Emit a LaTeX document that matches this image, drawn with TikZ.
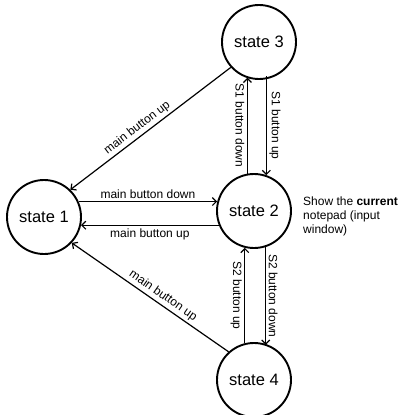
\documentclass[tikz,border=0pt]{standalone}
\usepackage{fontspec}
\setmainfont{Liberation Sans}
\usetikzlibrary{arrows.meta}

\begin{document}
\begin{tikzpicture}[
  x=1pt, y=-1pt,
  >={Straight Barb[length=4pt,width=8pt]},
  state node/.style={circle, draw, line width=1.9pt, minimum size=74pt, inner sep=0pt, font=\fontsize{16.5}{19}\selectfont},
  trans/.style={->, line width=1.2pt},
  lbl/.style={font=\fontsize{12}{14}\selectfont, inner sep=2.5pt}
]
\clip (0,0) rectangle (399,415);

\node[state node] (s1) at (44,217) {state 1};
\node[state node] (s2) at (254,211) {state 2};
\node[state node] (s3) at (259,42) {state 3};
\node[state node] (s4) at (254,380) {state 4};

% state 1 <-> state 2
\draw[trans] (s1.24) -- (s1.24 -| s2.166)
  node[lbl, midway, above] {main button down};
\draw[trans] (s2.202) -- (s2.202 -| s1.-13)
  node[lbl, midway, below] {main button up};

% back to state 1
\draw[trans] (s3.222) -- (s1.46)
  node[lbl, pos=0.55, above, sloped] {main button up};
\draw[trans] (s4.132) -- (s1.-43)
  node[lbl, pos=0.45, above, sloped] {main button up};

% state 2 <-> state 3
\draw[trans] (s2.100) -- (s2.100 |- s3.250)
  node[lbl, midway, anchor=north, rotate=-90] {S1 button down};
\draw[trans] (s2.71 |- s3.296) -- (s2.71)
  node[lbl, midway, anchor=south, rotate=-90] {S1 button up};

% state 2 <-> state 4
\draw[trans] (s4.104) -- (s4.104 |- s2.256)
  node[lbl, midway, anchor=north, rotate=-90] {S2 button up};
\draw[trans] (s2.288) -- (s2.288 |- s4.68)
  node[lbl, midway, anchor=south, rotate=-90] {S2 button down};

\node[lbl, anchor=north west, align=left, inner sep=0pt] (note) at (303,197)
  {Show the \textbf{current}\\notepad (input\\window)};
\end{tikzpicture}
\end{document}
